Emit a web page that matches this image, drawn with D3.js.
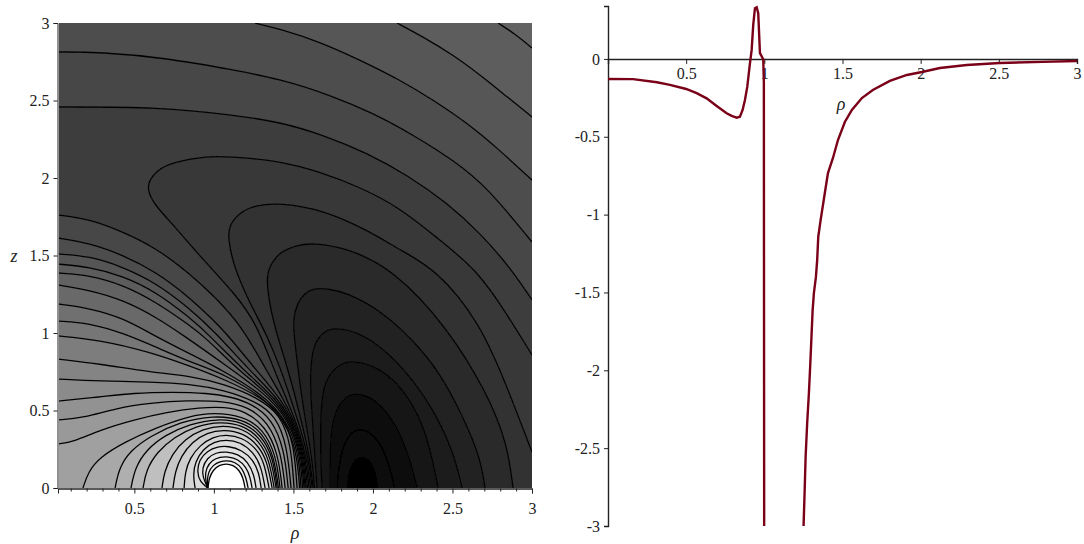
<!DOCTYPE html>
<html>
<head>
<meta charset="utf-8">
<style>
  body { margin: 0; background: #fff; }
  text { font-family: "Liberation Serif", serif; fill: #222; }
</style>
<script src="https://cdn.jsdelivr.net/npm/d3@7"></script>
</head>
<body>
<div id="viz-container"></div>
<script>
// ---- tick labels ----
const rhoTicks = [0.5, 1, 1.5, 2, 2.5, 3];
const zTicks = [0, 0.5, 1, 1.5, 2, 2.5, 3];
const valueTicks = [0, -0.5, -1, -1.5, -2, -2.5, -3];

// ---- left plot: contour lines as [rho, z] ----
// regions beyond these get lighter towards the top right corner
const upperRight = [
  [[.02,2.458],[.662,2.458],[1.121,2.407],[1.416,2.361],[1.687,2.278],[1.963,2.161],[2.215,2.019],[2.467,1.839],[2.674,1.645],[2.875,1.407],[3,1.213]],
  [[.02,2.813],[.284,2.813],[.706,2.774],[1.121,2.697],[1.416,2.639],[1.73,2.536],[2,2.419],[2.253,2.278],[2.504,2.116],[2.718,1.942],[3,1.587]],
  [[1.259,3],[1.416,2.961],[1.668,2.878],[1.919,2.761],[2.171,2.632],[2.379,2.503],[2.592,2.355],[2.781,2.194],[3,1.987]],
  [[2.152,3],[2.316,2.91],[2.504,2.794],[2.674,2.665],[2.844,2.523],[3,2.394]],
  [[2.787,3],[2.894,2.929],[3,2.839]]
];

// nested around the dark minimum near rho = 1.92
const basin = [
  [[1.608,0],[1.586,.181],[1.536,.374],[1.46,.568],[1.379,.761],[1.265,1.065],[1.14,1.245],[.888,1.523],[.762,1.678],[.643,1.807],[.586,1.903],[.586,1.974],[.643,2.052],[.743,2.103],[.957,2.142],[1.121,2.136],[1.416,2.11],[1.668,2.039],[1.919,1.942],[2.171,1.807],[2.404,1.613],[2.655,1.407],[2.838,1.129],[3,.858]],
  [[1.618,0],[1.596,.181],[1.548,.374],[1.485,.568],[1.423,.761],[1.328,1],[1.221,1.2],[1.121,1.439],[1.089,1.613],[1.096,1.697],[1.165,1.781],[1.265,1.826],[1.416,1.839],[1.687,1.794],[1.963,1.665],[2.171,1.535],[2.404,1.407],[2.674,1.065],[2.844,.652],[3,.232]],
  [[1.624,0],[1.605,.181],[1.564,.374],[1.517,.568],[1.467,.761],[1.391,1.006],[1.347,1.2],[1.328,1.374],[1.366,1.458],[1.416,1.523],[1.523,1.568],[1.624,1.581],[1.838,1.548],[2.127,1.413],[2.467,1.039],[2.718,.613],[2.844,.29],[2.881,0]],
  [[1.633,0],[1.618,.181],[1.586,.374],[1.555,.568],[1.53,.761],[1.504,.987],[1.498,1.084],[1.523,1.194],[1.574,1.258],[1.624,1.29],[1.73,1.284],[1.838,1.258],[2.045,1.148],[2.253,.955],[2.423,.742],[2.567,.458],[2.674,.2],[2.705,0]],
  [[1.649,0],[1.636,.181],[1.624,.374],[1.611,.568],[1.605,.742],[1.624,.923],[1.68,1],[1.749,1.039],[1.938,1],[2.152,.826],[2.36,.548],[2.504,.245],[2.561,0]],
  [[1.68,0],[1.668,.277],[1.674,.548],[1.699,.697],[1.781,.794],[1.857,.826],[2.045,.781],[2.215,.613],[2.341,.355],[2.41,0]],
  [[1.73,0],[1.73,.329],[1.762,.503],[1.825,.587],[1.888,.613],[2.014,.581],[2.152,.406],[2.234,.181],[2.278,0]],
  [[1.775,0],[1.775,.071],[1.806,.277],[1.869,.368],[1.919,.387],[2.014,.348],[2.095,.194],[2.139,0]],
  [[1.844,0],[1.85,.103],[1.888,.181],[1.932,.2],[1.982,.174],[2.014,.097],[2.026,0]]
];

// from the left edge in towards the white peak near rho = 1.05
const lowerLeft = [
  [[.02,1.761],[.215,1.736],[.429,1.652],[.636,1.548],[.844,1.387],[1.014,1.226],[1.184,1.032],[1.328,.761],[1.442,.568],[1.53,.374],[1.577,.181],[1.599,0]],
  [[.02,1.613],[.215,1.581],[.429,1.503],[.636,1.394],[.844,1.232],[.995,1.084],[1.077,1],[1.265,.761],[1.429,.568],[1.523,.374],[1.571,.181],[1.589,0]],
  [[.02,1.51],[.215,1.497],[.429,1.426],[.636,1.323],[.844,1.161],[1.014,1],[1.221,.761],[1.416,.568],[1.517,.374],[1.564,.181],[1.58,0]],
  [[.02,1.445],[.215,1.426],[.429,1.368],[.636,1.265],[.844,1.103],[.97,.987],[1.184,.761],[1.404,.568],[1.511,.374],[1.558,.181],[1.574,0]],
  [[.02,1.387],[.215,1.374],[.429,1.31],[.636,1.2],[.844,1.052],[.951,.968],[1.152,.761],[1.391,.568],[1.504,.374],[1.552,.181],[1.567,0]],
  [[.02,1.31],[.215,1.277],[.429,1.213],[.636,1.103],[.806,.987],[1.064,.8],[1.379,.568],[1.498,.374],[1.545,.181],[1.558,0]],
  [[.02,1.187],[.215,1.161],[.429,1.097],[.618,.987],[.85,.865],[1.064,.755],[1.36,.568],[1.489,.374],[1.536,.181],[1.548,0]],
  [[.02,1.077],[.215,1.065],[.429,1],[.662,.897],[.882,.8],[1.064,.735],[1.341,.568],[1.479,.374],[1.526,.181],[1.539,0]],
  [[.02,.981],[.284,.955],[.599,.877],[.85,.787],[1.064,.703],[1.303,.581],[1.435,.465],[1.504,.284],[1.523,0]],
  [[.02,.832],[.284,.8],[.599,.748],[.85,.723],[1.064,.671],[1.278,.581],[1.416,.477],[1.485,.284],[1.504,0]],
  [[.02,.703],[.284,.69],[.599,.684],[.85,.671],[1.064,.632],[1.259,.561],[1.391,.465],[1.46,.271],[1.485,0]],
  [[.02,.561],[.284,.587],[.492,.613],[.743,.619],[.957,.613],[1.115,.587],[1.24,.542],[1.366,.445],[1.442,.252],[1.467,0]],
  [[.02,.439],[.177,.452],[.391,.516],[.599,.548],[.831,.565],[1.064,.561],[1.215,.523],[1.341,.426],[1.423,.232],[1.448,0]],
  [[.02,.284],[.114,.297],[.284,.374],[.492,.439],[.706,.49],[.913,.519],[1.07,.523],[1.196,.497],[1.322,.4],[1.404,.226],[1.429,0]],
  [[.177,0],[.209,.103],[.284,.2],[.441,.297],[.63,.387],[.85,.465],[.995,.487],[1.184,.465],[1.309,.381],[1.391,.213],[1.416,0]],
  [[.379,0],[.404,.129],[.473,.239],[.599,.335],[.787,.426],[.995,.468],[1.184,.445],[1.303,.361],[1.379,.206],[1.406,0]],
  [[.479,0],[.504,.129],[.574,.245],[.693,.342],[.85,.413],[1.02,.448],[1.184,.426],[1.297,.342],[1.372,.2],[1.398,0]],
  [[.555,0],[.574,.116],[.643,.232],[.75,.329],[.888,.4],[1.039,.429],[1.184,.406],[1.29,.323],[1.36,.194],[1.391,0]],
  [[.674,0],[.687,.103],[.737,.219],[.819,.316],[.932,.381],[1.052,.406],[1.184,.384],[1.284,.303],[1.347,.187],[1.379,0]],
  [[.743,0],[.756,.103],[.794,.206],[.863,.297],[.957,.358],[1.064,.377],[1.184,.355],[1.278,.277],[1.335,.174],[1.366,0]],
  [[.813,0],[.819,.103],[.85,.194],[.913,.277],[.995,.329],[1.077,.345],[1.177,.326],[1.265,.258],[1.316,.168],[1.347,0]],
  [[.882,0],[.869,.084],[.882,.168],[.932,.252],[1.001,.297],[1.077,.313],[1.165,.297],[1.247,.232],[1.297,.142],[1.322,0]],
  [[.955,0],[.957,.006],[.913,.039],[.894,.103],[.907,.181],[.957,.239],[1.026,.268],[1.089,.271],[1.177,.245],[1.247,.181],[1.284,.097],[1.297,0]],
  [[.957,0],[.957,.013],[.932,.065],[.926,.129],[.957,.194],[1.014,.229],[1.077,.235],[1.152,.219],[1.215,.168],[1.253,.084],[1.265,0]],
  [[.96,0],[.957,.013],[.945,.065],[.951,.129],[.989,.181],[1.039,.2],[1.089,.203],[1.152,.187],[1.203,.135],[1.228,.071],[1.24,0]],
  [[.963,0],[.957,.026],[.963,.103],[.995,.148],[1.039,.171],[1.083,.177],[1.133,.168],[1.177,.129],[1.203,.065],[1.215,0]],
  [[.963,0],[.97,.065],[.995,.116],[1.033,.148],[1.077,.158],[1.121,.148],[1.159,.116],[1.184,.065],[1.196,0]]
];

// ---- right plot: the curve, in two branches either side of the pole ----
const rhoLeftBranch = [0, .16, .313, .396, .5, .567, .631, .695, .759, .791, .823, .844, .861, .876, .891, .908, .919, .929, .94, .951, .961, .972, .993, .997, .999];
const valueLeftBranch = [-.129, -.13, -.15, -.167, -.193, -.22, -.253, -.302, -.349, -.366, -.377, -.371, -.328, -.264, -.178, -.028, .058, .219, .326, .332, .294, .037, -.002, -.15, -3.1];
const rhoRightBranch = [1.251, 1.258, 1.264, 1.274, 1.285, 1.293, 1.302, 1.309, 1.317, 1.33, 1.338, 1.345, 1.36, 1.387, 1.407, 1.439, 1.471, 1.515, 1.56, 1.624, 1.694, 1.803, 1.912, 2.008, 2.123, 2.295, 2.506, 2.781, 3];
const valueRightBranch = [-3, -2.77, -2.558, -2.34, -2.147, -1.98, -1.774, -1.613, -1.504, -1.4, -1.292, -1.142, -1.035, -.861, -.733, -.636, -.521, -.405, -.328, -.251, -.199, -.141, -.103, -.084, -.058, -.039, -.026, -.019, -.013];

let viz = d3.select("#viz-container")
  .append("svg")
    .attr("width", 1084)
    .attr("height", 544)
    .style("display", "block");

// ==== left plot ====
let xLeft = d3.scaleLinear().domain([0.02, 3]).range([58, 532]);
let yLeft = d3.scaleLinear().domain([0, 3]).range([488, 23]);

let contourLine = d3.line()
  .x(d => xLeft(d[0]))
  .y(d => yLeft(d[1]))
  .curve(d3.curveBasis);

// a filled band = the contour closed through the given plot corners
function closedPath(points, corners) {
  let path = contourLine(points);
  corners.forEach(c => {
    path += "L" + xLeft(c[0]) + "," + yLeft(c[1]);
  });
  return path + "Z";
}

let upperGray = d3.scaleLinear().domain([0, 4]).range(["#474747", "#646464"]);
let basinGray = d3.scaleLinear().domain([0, 8]).range(["#383838", "#000000"]);
let lowerGray = d3.scaleLinear().domain([0, 13, 20, 25, 26])
  .range(["#464646", "#a0a0a0", "#d6d6d6", "#efefef", "#ffffff"]);

let defs = viz.append("defs");

defs.append("clipPath").attr("id", "left-clip")
  .append("rect")
    .attr("x", xLeft(0.02))
    .attr("y", yLeft(3))
    .attr("width", xLeft(3) - xLeft(0.02))
    .attr("height", yLeft(0) - yLeft(3));

// the reference is a slightly soft raster
defs.append("filter").attr("id", "soft")
  .attr("x", 0).attr("y", 0).attr("width", 1).attr("height", 1)
  .append("feGaussianBlur").attr("stdDeviation", 0.35);

let plot = viz.append("g").attr("clip-path", "url(#left-clip)")
  .append("g").attr("filter", "url(#soft)");

plot.append("rect")
  .attr("x", xLeft(0.02))
  .attr("y", yLeft(3))
  .attr("width", xLeft(3) - xLeft(0.02))
  .attr("height", yLeft(0) - yLeft(3))
  .attr("fill", "#3e3e3e");

plot.selectAll(".upper").data(upperRight).enter().append("path")
  .attr("class", "upper")
  .attr("d", d => closedPath(d, [[3, 3], [0.02, 3]]))
  .attr("fill", (d, i) => upperGray(i));

plot.selectAll(".basin").data(basin).enter().append("path")
  .attr("class", "basin")
  .attr("d", d => closedPath(d, [[3, 0]]))
  .attr("fill", (d, i) => basinGray(i));

plot.selectAll(".lower").data(lowerLeft).enter().append("path")
  .attr("class", "lower")
  .attr("d", d => closedPath(d, [[0.02, 0]]))
  .attr("fill", (d, i) => lowerGray(i));

plot.selectAll(".contour").data(upperRight.concat(basin, lowerLeft)).enter().append("path")
  .attr("class", "contour")
  .attr("d", contourLine)
  .attr("fill", "none")
  .attr("stroke", "#050505")
  .attr("stroke-width", 1.3);

// thin white gap between the shading and the z axis
viz.append("line")
  .attr("x1", 58.5).attr("x2", 58.5)
  .attr("y1", yLeft(3)).attr("y2", yLeft(0))
  .attr("stroke", "#fff");

function styleAxis(g) {
  g.selectAll("path").attr("stroke", "#222");
  g.selectAll("line").attr("stroke", "#222");
  g.selectAll("text").style("font-size", "16px").attr("fill", "#222");
}

let minorTicks = d3.range(1, 30).filter(i => i % 5 != 0).map(i => i / 10);

viz.append("g")
  .attr("transform", "translate(0,488.5)")
  .call(d3.axisBottom(xLeft).tickValues(minorTicks).tickSize(3).tickFormat(""))
  .call(styleAxis);

viz.append("g")
  .attr("transform", "translate(0,488.5)")
  .call(d3.axisBottom(xLeft).tickValues(rhoTicks).tickSize(5).tickPadding(9).tickFormat(d => d))
  .call(styleAxis);

viz.append("g")
  .attr("transform", "translate(57.5,0)")
  .call(d3.axisLeft(yLeft).tickValues(zTicks).tickSize(4).tickPadding(4).tickFormat(d => d))
  .call(styleAxis);

viz.append("text")
  .attr("x", 295).attr("y", 539)
  .attr("text-anchor", "middle")
  .style("font-size", "18px").style("font-style", "italic")
  .text("ρ");

viz.append("text")
  .attr("x", 14).attr("y", 262)
  .attr("text-anchor", "middle")
  .style("font-size", "18px").style("font-style", "italic")
  .text("z");

// ==== right plot ====
let xRight = d3.scaleLinear().domain([0, 3]).range([608, 1077]);
let yRight = d3.scaleLinear().domain([-3, 0.34]).range([526, 6]);

viz.append("g")
  .attr("transform", "translate(0," + yRight(0) + ")")
  .call(d3.axisBottom(xRight).tickValues(rhoTicks).tickSize(5).tickPadding(4).tickFormat(d => d))
  .call(styleAxis)
  .call(g => g.select("path").attr("stroke-width", 1.4));

viz.append("g")
  .attr("transform", "translate(608,0)")
  .call(d3.axisLeft(yRight).tickValues(valueTicks).tickSize(4).tickPadding(4).tickFormat(d => d))
  .call(styleAxis)
  .call(g => g.select("path").attr("stroke-width", 1.4));

viz.append("text")
  .attr("x", 841).attr("y", 110)
  .attr("text-anchor", "middle")
  .style("font-size", "18px").style("font-style", "italic")
  .text("ρ");

viz.append("clipPath").attr("id", "right-clip")
  .append("rect")
    .attr("x", 600).attr("y", 0)
    .attr("width", 484).attr("height", yRight(-3));

let valueLine = d3.line()
  .x(d => xRight(d[0]))
  .y(d => yRight(d[1]));

let branches = [
  d3.zip(rhoLeftBranch, valueLeftBranch),
  d3.zip(rhoRightBranch, valueRightBranch)
];

viz.append("g").attr("clip-path", "url(#right-clip)")
  .selectAll(".branch").data(branches).enter().append("path")
    .attr("class", "branch")
    .attr("d", valueLine)
    .attr("fill", "none")
    .attr("stroke", "#7a0018")
    .attr("stroke-width", 2.4);
</script>
</body>
</html>
